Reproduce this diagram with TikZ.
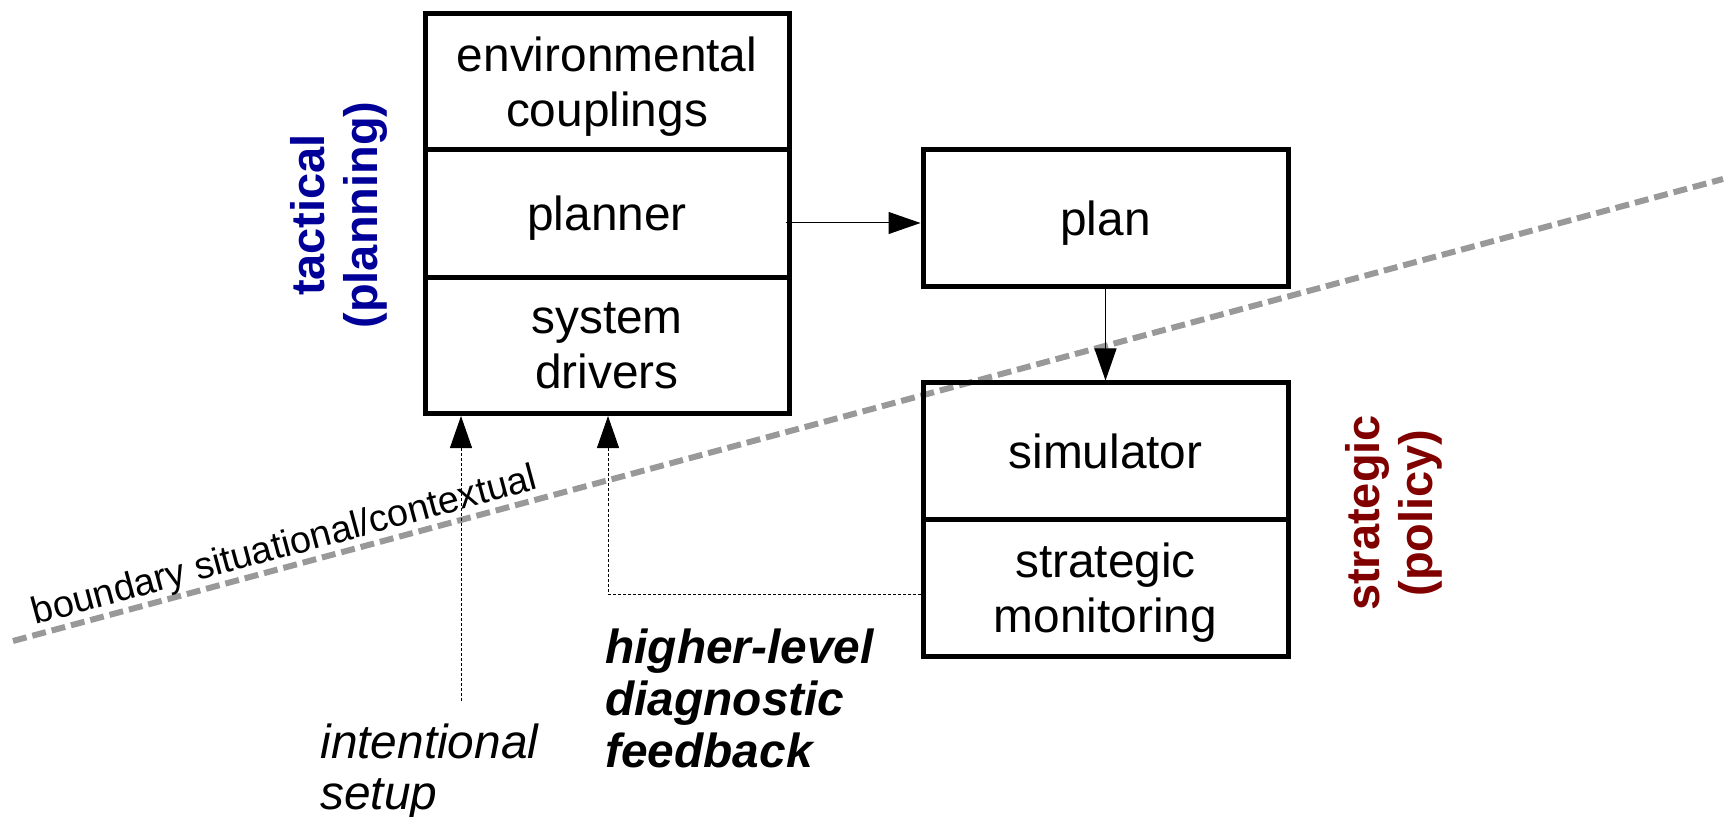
\documentclass[tikz,border=0pt]{standalone}
\usepackage{fontspec}
\setmainfont{Liberation Sans}
\usetikzlibrary{arrows.meta}
\definecolor{tacticblue}{RGB}{0,0,153}
\definecolor{strategyred}{RGB}{128,0,0}
\definecolor{boundarygray}{RGB}{153,153,153}
\begin{document}
\begin{tikzpicture}[x=0.5pt, y=-0.5pt,
  block/.style={draw, line width=2.5pt, inner sep=0pt, align=center, text depth=0pt, minimum width=182pt, font=\fontsize{23.9}{27.5}\selectfont},
  link/.style={line width=0.5pt, -{Triangle[length=16pt, width=11pt]}},
  feed/.style={line width=0.5pt, dash pattern=on 1.5pt off 1pt, -{Triangle[length=16pt, width=11pt]}},
  boundary/.style={boundarygray, line width=3pt, dash pattern=on 7pt off 3pt},
  layer/.style={rotate=90, align=center, font=\fontsize{23.5}{26.5}\selectfont\bfseries},
  note/.style={align=left, inner sep=0pt, font=\fontsize{23.9}{25.5}\selectfont}]
\useasboundingbox (0,0) rectangle (1732,817);
\coordinate (bndA) at (13,641);
\coordinate (bndB) at (1723,179);
\draw[boundary] (bndA) -- node[pos=0.162, sloped, above=-0.5pt, inner sep=0pt, black, font=\fontsize{18.9}{20}\selectfont] (bndlabel) {boundary situational/contextual} (bndB);
\node[block, minimum height=67.75pt] (env) at (607,81.75) {environmental\\couplings};
\node[block, minimum height=64pt] (planner) at (607,213.5) {planner};
\node[block, minimum height=68pt] (drivers) at (607,345.5) {system\\drivers};
\node[block, minimum width=182.5pt, minimum height=68.5pt] (plan) at (1105.5,218.5) {plan};
\node[block, minimum width=182.5pt, minimum height=68pt] (simulator) at (1105.5,451) {simulator};
\node[block, minimum width=182.5pt, minimum height=68.5pt] (monitoring) at (1105.5,587.5) {strategic\\monitoring};
\node[layer, tacticblue] (tactical) at (339,215) {tactical\\(planning)};
\node[layer, strategyred] (strategic) at (1394,513) {strategic\\(policy)};
\node[note, anchor=west, font=\fontsize{23.9}{25.5}\selectfont\itshape] (setup) at (320,772) {intentional\\setup};
\node[note, anchor=west, font=\fontsize{23.9}{26}\selectfont\bfseries\itshape] (feedback) at (605,698) {higher-level\\diagnostic\\feedback};
\coordinate (setupend) at (461,701);
\coordinate (fbcorner) at (608,594);
\draw[link] ([xshift=-3pt]planner.east |- 0,223) -- (plan.west |- 0,223);
\draw[link] (plan.south) -- (simulator.north);
\draw[feed] (setupend) -- (setupend |- drivers.south);
\draw[feed] (monitoring.west |- fbcorner) -- (fbcorner) -- (fbcorner |- drivers.south);
\end{tikzpicture}
\end{document}
